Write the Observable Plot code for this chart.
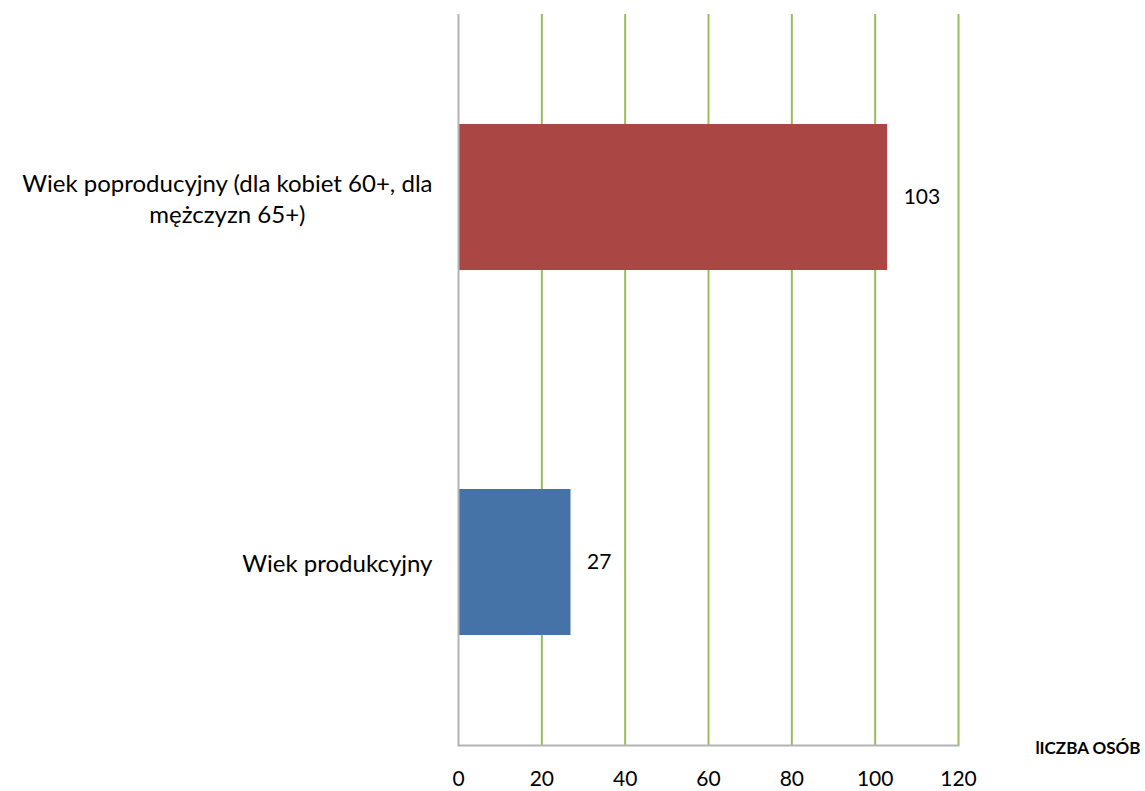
<!DOCTYPE html>
<html><head><meta charset="utf-8">
<script src="https://cdn.jsdelivr.net/npm/d3@7"></script>
<script src="https://cdn.jsdelivr.net/npm/@observablehq/plot@0.6"></script>
<style>body{margin:0;background:#fff}</style>
</head><body><div id="chart"></div>
<script>
const categories = ["Wiek poproducyjny (dla kobiet 60+, dla\nmężczyzn 65+)", "Wiek produkcyjny"];
const values = [103, 27];
const colors = ["#AA4643", "#4572A7"];
const xTicks = [0, 20, 40, 60, 80, 100, 120];
const gridTicks = [20, 40, 60, 80, 100, 120];
const axisTitle = "lICZBA OSÓB";
const data = categories.map((c, i) => ({category: c, value: values[i], color: colors[i]}));

const plot = Plot.plot({
  width: 1145, height: 791,
  marginLeft: 458, marginRight: 187, marginTop: 14, marginBottom: 46,
  style: {fontFamily: "Lato, sans-serif", fontSize: "22px", color: "#000", background: "#fff"},
  x: {domain: [0, 120]},
  y: {domain: categories, paddingInner: 0.6, paddingOuter: 0.3},
  color: {type: "identity"},
  marks: [
    Plot.ruleX(gridTicks, {stroke: "#9BBB59", strokeWidth: 2}),
    Plot.barX(data, {x: "value", y: "category", fill: "color"}),
    Plot.ruleX([0], {stroke: "#B3B3B3", strokeWidth: 2}),
    Plot.frame({anchor: "bottom", stroke: "#B3B3B3", strokeWidth: 2}),
    Plot.text(data, {x: "value", y: "category", text: d => String(d.value), dx: 16, textAnchor: "start", fontSize: 21, fill: "#000"}),
    Plot.axisX(xTicks, {tickSize: 0, tickPadding: 26, label: null, fontSize: 21}),
    Plot.axisY({tickSize: 0, tickPadding: 26, label: null, fontSize: 24, lineHeight: 1.3}),
    Plot.text([axisTitle], {x: () => 120, frameAnchor: "bottom", dx: 182, dy: 8, textAnchor: "end", fontWeight: "bold", fontSize: 17, fill: "#000"})
  ]
});
document.getElementById("chart").appendChild(plot);

// center multi-line category labels like the original
plot.querySelectorAll('g[aria-label="y-axis tick label"] text').forEach(t => {
  const spans = t.querySelectorAll("tspan");
  if (spans.length > 1) {
    let maxW = 0;
    spans.forEach(s => { maxW = Math.max(maxW, s.getComputedTextLength()); });
    t.setAttribute("text-anchor", "middle");
    spans.forEach(s => s.setAttribute("x", -maxW / 2));
  }
});
</script>
</body></html>
